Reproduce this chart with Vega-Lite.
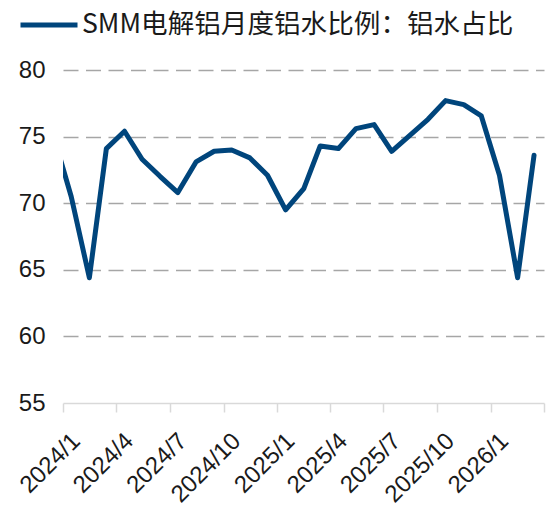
{
  "$schema": "https://vega.github.io/schema/vega-lite/v6.json",
  "width": 481,
  "height": 333,
  "autosize": {"type": "none"},
  "padding": {"left": 63, "top": 70, "right": 2, "bottom": 106},
  "background": "white",
  "config": {"view": {"stroke": null}},
  "data": {
    "values": [
      {"date": "2023/12/15", "value": 75.2, "series": "SMM电解铝月度铝水比例：铝水占比"},
      {"date": "2024/01/15", "value": 70.5, "series": "SMM电解铝月度铝水比例：铝水占比"},
      {"date": "2024/02/15", "value": 64.4, "series": "SMM电解铝月度铝水比例：铝水占比"},
      {"date": "2024/03/15", "value": 74.1, "series": "SMM电解铝月度铝水比例：铝水占比"},
      {"date": "2024/04/15", "value": 75.4, "series": "SMM电解铝月度铝水比例：铝水占比"},
      {"date": "2024/05/15", "value": 73.3, "series": "SMM电解铝月度铝水比例：铝水占比"},
      {"date": "2024/06/15", "value": 72.0, "series": "SMM电解铝月度铝水比例：铝水占比"},
      {"date": "2024/07/15", "value": 70.8, "series": "SMM电解铝月度铝水比例：铝水占比"},
      {"date": "2024/08/15", "value": 73.1, "series": "SMM电解铝月度铝水比例：铝水占比"},
      {"date": "2024/09/15", "value": 73.9, "series": "SMM电解铝月度铝水比例：铝水占比"},
      {"date": "2024/10/15", "value": 74.0, "series": "SMM电解铝月度铝水比例：铝水占比"},
      {"date": "2024/11/15", "value": 73.4, "series": "SMM电解铝月度铝水比例：铝水占比"},
      {"date": "2024/12/15", "value": 72.1, "series": "SMM电解铝月度铝水比例：铝水占比"},
      {"date": "2025/01/15", "value": 69.5, "series": "SMM电解铝月度铝水比例：铝水占比"},
      {"date": "2025/02/15", "value": 71.1, "series": "SMM电解铝月度铝水比例：铝水占比"},
      {"date": "2025/03/15", "value": 74.3, "series": "SMM电解铝月度铝水比例：铝水占比"},
      {"date": "2025/04/15", "value": 74.1, "series": "SMM电解铝月度铝水比例：铝水占比"},
      {"date": "2025/05/15", "value": 75.6, "series": "SMM电解铝月度铝水比例：铝水占比"},
      {"date": "2025/06/15", "value": 75.9, "series": "SMM电解铝月度铝水比例：铝水占比"},
      {"date": "2025/07/15", "value": 73.9, "series": "SMM电解铝月度铝水比例：铝水占比"},
      {"date": "2025/08/15", "value": 75.1, "series": "SMM电解铝月度铝水比例：铝水占比"},
      {"date": "2025/09/15", "value": 76.3, "series": "SMM电解铝月度铝水比例：铝水占比"},
      {"date": "2025/10/15", "value": 77.7, "series": "SMM电解铝月度铝水比例：铝水占比"},
      {"date": "2025/11/15", "value": 77.4, "series": "SMM电解铝月度铝水比例：铝水占比"},
      {"date": "2025/12/15", "value": 76.55, "series": "SMM电解铝月度铝水比例：铝水占比"},
      {"date": "2026/01/15", "value": 72.1, "series": "SMM电解铝月度铝水比例：铝水占比"},
      {"date": "2026/02/15", "value": 64.4, "series": "SMM电解铝月度铝水比例：铝水占比"},
      {"date": "2026/03/15", "value": 73.6, "series": "SMM电解铝月度铝水比例：铝水占比"}
    ]
  },
  "mark": {"type": "line", "clip": true, "strokeWidth": 5, "strokeJoin": "round", "strokeCap": "round"},
  "encoding": {
    "x": {
      "field": "date",
      "type": "temporal",
      "scale": {"domain": [{"year": 2024, "month": 1, "date": 1}, {"year": 2026, "month": 4, "date": 1}], "nice": false},
      "axis": {
        "title": null,
        "grid": false,
        "values": [
          {"year": 2024, "month": 1, "date": 1},
          {"year": 2024, "month": 4, "date": 1},
          {"year": 2024, "month": 7, "date": 1},
          {"year": 2024, "month": 10, "date": 1},
          {"year": 2025, "month": 1, "date": 1},
          {"year": 2025, "month": 4, "date": 1},
          {"year": 2025, "month": 7, "date": 1},
          {"year": 2025, "month": 10, "date": 1},
          {"year": 2026, "month": 1, "date": 1},
          {"year": 2026, "month": 4, "date": 1}
        ],
        "labelExpr": "datum.value >= datetime(2026, 3, 1) ? '' : timeFormat(datum.value, '%Y/%-m')",
        "labelAngle": -45,
        "labelAlign": "right",
        "labelBaseline": "middle",
        "labelFont": "Liberation Sans",
        "labelFontSize": 24,
        "labelColor": "#1a1a1a",
        "labelPadding": 25,
        "labelOffset": 13,
        "labelOverlap": false,
        "labelFlush": false,
        "domainColor": "#d9d9d9",
        "domainWidth": 1.5,
        "tickColor": "#d9d9d9",
        "tickWidth": 1.5,
        "tickSize": 9,
        "zindex": 1
      }
    },
    "y": {
      "field": "value",
      "type": "quantitative",
      "scale": {"domain": [55, 80], "nice": false, "zero": false},
      "axis": {
        "title": null,
        "values": [55, 60, 65, 70, 75, 80],
        "domain": false,
        "ticks": false,
        "tickSize": 0,
        "labelPadding": 18,
        "labelFont": "Liberation Sans",
        "labelFontSize": 24,
        "labelColor": "#1a1a1a",
        "grid": true,
        "gridColor": "#a6a6a6",
        "gridWidth": 1.3,
        "gridDash": [15, 7.5],
        "gridOpacity": {"condition": {"test": "datum.value == 55", "value": 0}, "value": 1}
      }
    },
    "color": {
      "field": "series",
      "type": "nominal",
      "scale": {"range": ["#00457c"]},
      "legend": {
        "title": null,
        "orient": "none",
        "legendX": -45,
        "legendY": -76,
        "padding": 0,
        "symbolType": "stroke",
        "symbolSize": 3249,
        "symbolStrokeWidth": 5,
        "labelFont": "Noto Sans CJK SC",
        "labelFontSize": 26.6,
        "labelColor": "#1a1a1a",
        "labelOffset": 2,
        "labelLimit": 0
      }
    }
  }
}
